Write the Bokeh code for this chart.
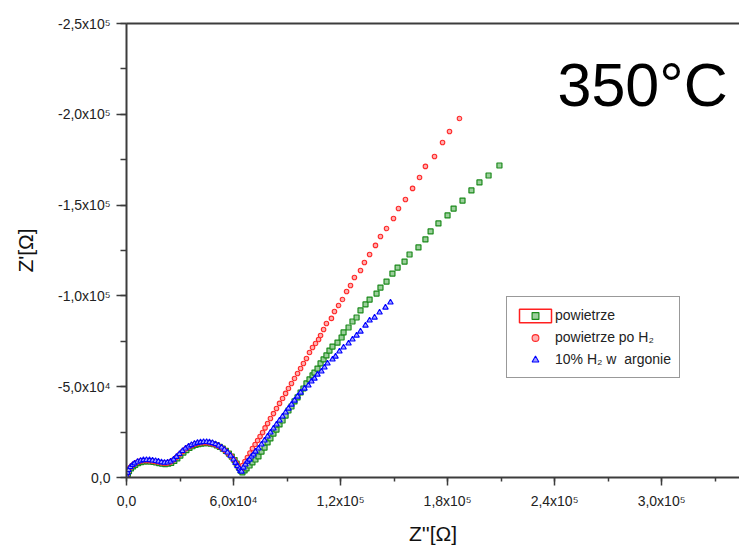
from bokeh.plotting import figure
from bokeh.models import (Range1d, SingleIntervalTicker, FixedTicker, CustomJSTickFormatter, LinearAxis,
                          Legend, LegendItem, Label)
from bokeh.embed import file_html
from bokeh.resources import INLINE

# ---- data (kOhm) : Z'' (real) and -Z' (imaginary, shown negative upward) ----
green_arc_x = [0.4,0.8,1.4,2.5,3.7,4.9,6.5,8.2,9.9,11.6,13.3,15.0,16.6,18.3,20.0,21.7,23.4,25.1,26.8,28.5,
               30.2,31.9,33.6,35.3,37.0,38.7,40.4,42.1,43.8,45.5,47.2,48.9,50.6,52.3,54.0,55.7,57.4,59.0,60.6,61.8,
               63.0,64.0]
green_arc_y = [0.3,2.0,3.5,5.0,6.1,7.0,7.9,8.5,8.8,8.9,8.8,8.6,8.3,7.9,7.6,7.4,7.6,8.1,9.1,10.5,
               12.1,13.7,15.1,16.3,17.2,17.9,18.4,18.7,18.9,18.9,18.7,18.3,17.7,16.9,15.9,14.7,13.2,11.5,9.6,7.6,
               5.6,3.8]
green_tail_x = [65.0,66.2,67.3,69.0,70.6,72.3,74.0,75.7,77.4,79.1,80.7,82.4,84.1,85.8,87.5,89.2,90.8,92.5,94.2,95.9,
                97.6,99.2,100.9,102.6,104.3,105.4,107.1,108.8,110.5,112.1,113.8,115.5,118.3,120.6,121.7,124.5,126.7,129.0,131.2,134.0,
                136.3,140.2,142.4,145.8,149.1,152.0,155.9,158.7,163.7,167.6,170.5,174.9,180.0,183.4,188.4,193.4,197.9,203.0,209.1]
green_tail_y = [2.8,3.9,5.0,6.6,8.3,9.9,11.6,14.3,16.5,19.3,21.5,24.2,26.4,29.2,31.4,34.1,36.9,39.1,41.9,44.1,
                46.8,49.0,51.8,54.0,56.2,57.8,60.0,62.8,65.0,67.2,69.9,72.1,74.3,77.1,79.9,82.6,85.9,88.1,92.0,95.3,
                98.0,101.3,104.6,107.9,112.3,115.6,118.9,122.8,126.7,131.1,135.5,139.9,144.3,148.1,152.5,158.1,162.5,166.3,171.8]

red_arc_x = [0.2,0.5,1.0,2.0,3.1,4.3,5.9,7.6,9.3,11.0,12.7,14.4,16.1,17.8,19.5,21.2,22.9,24.6,26.3,28.0,
             29.7,31.4,33.1,34.8,36.5,38.2,39.9,41.6,43.3,45.0,46.7,48.4,50.1,51.8,53.5,55.2,56.9,58.6,60.2,61.5,
             62.7,63.7,64.3]
red_arc_y = [0.4,2.3,3.9,5.5,6.6,7.5,8.4,9.0,9.3,9.4,9.3,9.1,8.8,8.5,8.1,7.9,8.0,8.6,9.6,11.1,
             12.7,14.3,15.7,16.8,17.6,18.3,18.8,19.1,19.2,19.2,19.0,18.6,18.0,17.2,16.2,15.0,13.5,11.8,9.9,8.0,
             6.2,4.8,4.0]
red_tail_x = [65.0,66.4,67.8,69.2,70.6,72.1,73.5,74.9,76.3,77.7,79.1,80.7,82.4,84.1,85.8,87.5,89.2,90.8,92.5,94.2,
              95.9,97.6,99.2,100.9,102.6,104.3,106.0,107.7,108.8,110.5,112.1,114.9,116.6,118.9,121.1,123.4,125.6,127.8,131.2,133.4,
              136.3,139.6,142.4,145.8,149.7,152.5,156.4,160.4,164.3,167.6,172.7,177.2,181.1,186.7]
red_tail_y = [6.6,8.8,11.0,13.5,16.0,18.2,20.4,22.6,24.8,27.3,29.7,32.5,35.2,38.0,40.8,43.5,46.3,49.0,51.8,54.5,
              57.3,60.0,62.8,65.5,68.8,71.6,73.8,76.0,78.2,81.5,84.8,87.6,91.4,94.7,98.0,102.4,105.7,110.1,114.0,118.4,
              122.8,127.8,132.7,137.1,142.6,148.1,153.1,159.2,165.2,171.3,176.8,184.5,190.5,197.7]

blue_arc_x = [0.3,0.6,1.1,2.2,3.4,4.5,6.2,7.9,9.5,11.2,12.9,14.6,16.3,17.9,19.6,21.3,23.0,24.7,26.4,28.0,
              29.7,31.4,33.1,34.8,36.4,38.1,39.8,41.5,43.2,44.9,46.5,48.2,49.9,51.6,53.3,54.9,56.6,58.3,60.0,61.1,
              62.2,63.4,63.9]
blue_arc_y = [0.5,2.6,4.2,5.8,6.9,7.8,8.7,9.3,9.6,9.7,9.6,9.4,9.1,8.8,8.4,8.2,8.3,8.9,9.9,11.4,
              13.0,14.6,16.0,17.1,17.9,18.6,19.1,19.4,19.6,19.6,19.4,19.0,18.4,17.6,16.6,15.3,13.8,12.0,10.0,8.1,
              6.3,4.7,3.6]
blue_tail_x = [64.5,65.6,66.7,67.8,69.0,70.1,71.2,72.3,74.0,75.7,77.4,79.1,80.7,82.4,84.1,85.8,87.5,89.2,90.8,92.5,
               94.2,95.9,97.6,99.8,102.0,103.7,105.4,107.1,109.3,111.0,112.7,115.5,117.2,119.4,121.7,124.5,126.7,129.0,131.2,134.0,
               136.3,139.1,141.9,145.2,148.0]
blue_tail_y = [3.3,5.5,7.2,8.8,9.9,11.6,12.7,14.3,16.0,18.2,20.4,22.6,24.8,27.0,29.2,31.4,33.6,35.8,38.0,40.2,
               42.4,44.6,46.8,49.0,50.7,52.9,54.5,56.7,58.4,60.6,62.8,65.0,66.6,69.4,71.6,73.8,76.0,78.2,80.4,83.7,
               86.5,88.1,90.9,93.6,96.4]

labels = ["powietrze", "powietrze po H\u2082", "10% H\u2082 w  argonie"]
title_text = "350\u00b0C"
x_label = "Z''[\u03a9]"
y_label = "Z'[\u03a9]"


def to_ohm_x(a, b):
    return [v * 1e3 for v in a + b]


def to_ohm_y(a, b):
    return [-v * 1e3 for v in a + b]


gx, gy = to_ohm_x(green_arc_x, green_tail_x), to_ohm_y(green_arc_y, green_tail_y)
rx, ry = to_ohm_x(red_arc_x, red_tail_x), to_ohm_y(red_arc_y, red_tail_y)
bx, by = to_ohm_x(blue_arc_x, blue_tail_x), to_ohm_y(blue_arc_y, blue_tail_y)

FONT = "Liberation Sans"

p = figure(width=739, height=548, output_backend="svg", toolbar_location=None,
           x_range=Range1d(0, 343700), y_range=Range1d(0, -250000),
           min_border_left=126, min_border_right=0, min_border_top=23, min_border_bottom=71)
p.background_fill_color = "white"
p.border_fill_color = "white"
p.outline_line_color = None
p.grid.visible = False

fmt = CustomJSTickFormatter(code="""
if (Math.abs(tick) < 1e-9) return "0,0";
const e = Math.floor(Math.log10(Math.abs(tick)) + 1e-9);
const m = tick / Math.pow(10, e);
const sup = {"3": "\u00b3", "4": "\u2074", "5": "\u2075", "6": "\u2076"};
return m.toFixed(1).replace(".", ",") + "x10" + sup[String(e)];
""")

xa = p.xaxis[0]
ya = p.yaxis[0]
xa.ticker = SingleIntervalTicker(interval=60000, num_minor_ticks=2)
ya.ticker = SingleIntervalTicker(interval=50000, num_minor_ticks=2)
for ax in (xa, ya):
    ax.formatter = fmt
    ax.axis_line_width = 2
    ax.axis_line_color = "#3c3c3c"
    ax.major_tick_line_color = "#3c3c3c"
    ax.minor_tick_line_color = "#3c3c3c"
    ax.major_tick_line_width = 1.5
    ax.minor_tick_line_width = 1.5
    ax.major_tick_in = 0
    ax.minor_tick_in = 0
    ax.major_label_text_font = FONT
    ax.major_label_text_font_size = "14px"
    ax.major_label_text_color = "#222222"
    ax.axis_label_text_font = FONT
    ax.axis_label_text_font_size = "21px"
    ax.axis_label_text_font_style = "normal"
    ax.axis_label_text_color = "#111111"
xa.major_tick_out = 8
xa.minor_tick_out = 4
ya.major_tick_out = 10
ya.minor_tick_out = 6
xa.major_label_standoff = 7
ya.major_label_standoff = 6
xa.axis_label = x_label
ya.axis_label = y_label
xa.axis_label_standoff = 10
ya.axis_label_standoff = 18

top = LinearAxis(axis_line_width=2, axis_line_color="#3c3c3c",
                 ticker=FixedTicker(ticks=[]),
                 major_tick_line_color=None, minor_tick_line_color=None)
p.add_layout(top, "above")

rg = p.scatter(gx, gy, marker="square", size=5, line_color="#1b8a1b", line_width=1.2,
               fill_color="#9ccf9c")
rr = p.scatter(rx, ry, marker="circle", size=4.5, line_color="#ff2a2a", line_width=1.1,
               fill_color="#ffb0b0")
rb = p.scatter(bx, by, marker="triangle", size=5.5, line_color="#0000ff", line_width=1.1,
               fill_color="#a0a0ff")
# hidden companion renderer: only used to draw the red frame around the first legend symbol
rframe = p.rect(x=gx, y=gy, width=1, height=1, fill_color=None, line_color="#ff2020",
                line_width=1.5, visible=False)

legend = Legend(items=[LegendItem(label=labels[0], renderers=[rframe, rg]),
                       LegendItem(label=labels[1], renderers=[rr]),
                       LegendItem(label=labels[2], renderers=[rb])],
                location=(380, 99), orientation="vertical", click_policy="none",
                glyph_width=40, glyph_height=17, label_standoff=0, padding=8, spacing=2,
                margin=0, label_text_font=FONT, label_text_font_size="14px",
                label_text_color="#222222", label_height=20,
                border_line_color="#333333", border_line_width=1.5,
                background_fill_color="white", background_fill_alpha=1)
p.add_layout(legend, "center")

p.add_layout(Label(x=431, y=393, x_units="screen", y_units="screen", text=title_text,
                   text_font=FONT, text_font_size="61px", text_color="black",
                   text_baseline="alphabetic", text_align="left"))

open("out.html", "w").write(file_html(p, INLINE))
